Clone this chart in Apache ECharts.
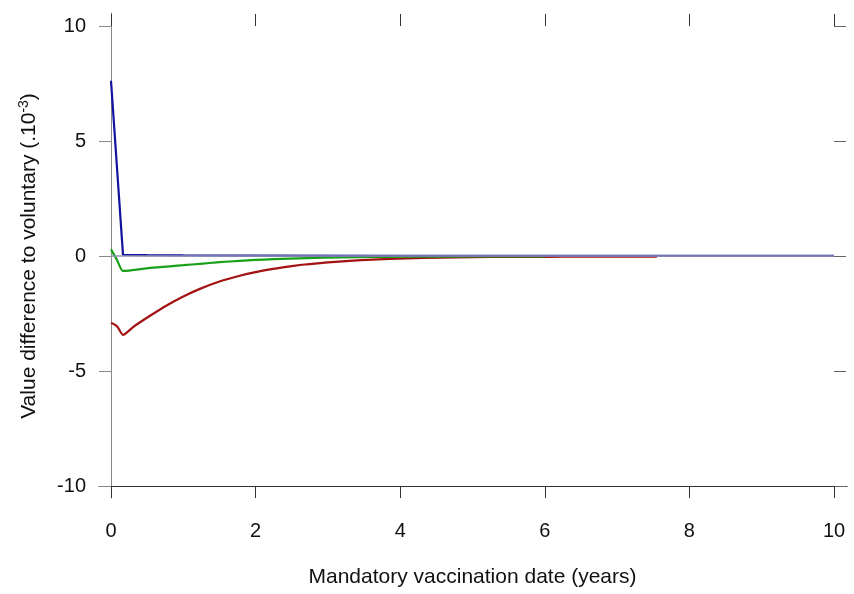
<!DOCTYPE html>
<html><head><meta charset="utf-8">
<script src="https://cdn.jsdelivr.net/npm/echarts@6/dist/echarts.min.js"></script>
<style>html,body{margin:0;padding:0;background:#fff}#c{width:854px;height:594px}</style>
</head><body><div id="c"></div>
<script>
const xTicks = [0, 2, 4, 6, 8, 10];
const yTicks = [-10, -5, 0, 5, 10];
const blueX = [0, 0.166, 0.5, 1, 2, 4, 10];
const blueY = [7.62, 0.05, 0.04, 0.03, 0.02, 0.01, 0.01];
const greenX = [0, 0.083, 0.166, 0.54, 1.0, 1.23, 1.5, 1.78, 2.0, 2.24, 2.71, 3.17, 3.62, 4.09, 5, 6];
const greenY = [0.29, -0.17, -0.65, -0.52, -0.40, -0.34, -0.27, -0.21, -0.17, -0.14, -0.09, -0.06, -0.04, -0.03, -0.02, -0.02];
const redX = [0, 0.083, 0.166, 0.31, 0.54, 0.77, 1.0, 1.23, 1.5, 1.78, 2.0, 2.24, 2.5, 2.71, 3.0, 3.3, 3.62, 4.09, 4.55, 5.0, 5.5, 6.0, 6.5, 7.0, 7.55];
const redY = [-2.9, -3.05, -3.43, -3.08, -2.6, -2.15, -1.76, -1.43, -1.11, -0.86, -0.70, -0.56, -0.44, -0.36, -0.28, -0.21, -0.155, -0.10, -0.07, -0.05, -0.04, -0.035, -0.03, -0.03, -0.03];

const zip = (xs, ys) => xs.map((x, i) => [x, ys[i]]);
const FONT = 'Liberation Sans';
const chart = echarts.init(document.getElementById('c'), null, {renderer: 'canvas'});
const tickStyle = c => ({show: true, inside: false, length: 12, lineStyle: {color: c, width: 1}});
const noLine = {show: false, onZero: false};
chart.setOption({
  backgroundColor: '#fff',
  animation: false,
  grid: [
    {left: 111, right: 20, top: 26, bottom: 108},
    {left: 99, right: 7, top: 26, bottom: 108},
    {left: 111, right: 20, top: 13, bottom: 96}
  ],
  xAxis: [
    {gridIndex: 0, type: 'value', position: 'bottom', min: xTicks[0], max: xTicks[xTicks.length - 1], interval: 2,
     axisLine: noLine, splitLine: {show: false}, axisTick: tickStyle('#333'),
     axisLabel: {fontFamily: FONT, fontSize: 20, color: '#111', margin: 35},
     name: 'Mandatory vaccination date (years)', nameLocation: 'middle', nameGap: 81,
     nameTextStyle: {fontFamily: FONT, fontSize: 21, color: '#111'}},
    {gridIndex: 0, type: 'value', position: 'top', min: 0, max: 10, interval: 2,
     axisLine: noLine, splitLine: {show: false}, axisTick: tickStyle('#333'), axisLabel: {show: false}},
    {gridIndex: 1, type: 'value', min: 0, max: 1, axisLine: {show: true, onZero: false, lineStyle: {color: '#333', width: 1}},
     axisTick: {show: false}, axisLabel: {show: false}, splitLine: {show: false}},
    {gridIndex: 2, type: 'value', show: false, min: 0, max: 1}
  ],
  yAxis: [
    {gridIndex: 0, type: 'value', position: 'left', min: yTicks[0], max: yTicks[yTicks.length - 1], interval: 5,
     axisLine: noLine, splitLine: {show: false}, axisTick: tickStyle('#888'),
     axisLabel: {fontFamily: FONT, fontSize: 20, color: '#111', margin: 25},
     name: '{a|Value difference to voluntary (.10}{s|-3}{a|)}', nameLocation: 'middle', nameGap: 70, nameRotate: 90,
     nameTextStyle: {fontFamily: FONT, fontSize: 21, color: '#111',
       rich: {a: {fontFamily: FONT, fontSize: 21, color: '#111'}, s: {fontFamily: FONT, fontSize: 14, color: '#111', padding: [0, 0, 10, 0]}}}},
    {gridIndex: 0, type: 'value', position: 'right', min: -10, max: 10, interval: 5,
     axisLine: noLine, splitLine: {show: false}, axisTick: tickStyle('#666'), axisLabel: {show: false}},
    {gridIndex: 1, type: 'value', show: false, min: 0, max: 1},
    {gridIndex: 2, type: 'value', min: 0, max: 1, axisLine: {show: true, onZero: false, lineStyle: {color: '#888', width: 1}},
     axisTick: {show: false}, axisLabel: {show: false}, splitLine: {show: false}}
  ],
  series: [
    {type: 'line', xAxisIndex: 0, yAxisIndex: 0, data: zip(redX, redY), showSymbol: false, smooth: 0.2,
     lineStyle: {color: '#a31212', width: 2.2}, z: 2},
    {type: 'line', xAxisIndex: 0, yAxisIndex: 0, data: zip(greenX, greenY), showSymbol: false, smooth: 0.2,
     lineStyle: {color: '#18a018', width: 2.2}, z: 3},
    {type: 'line', xAxisIndex: 0, yAxisIndex: 0, data: zip(blueX, blueY), showSymbol: false,
     lineStyle: {color: '#12129c', width: 2.2}, z: 4,
     markLine: {silent: true, symbol: 'none', label: {show: false}, animation: false,
       lineStyle: {color: 'rgba(150,150,180,0.75)', width: 2, type: 'solid'},
       data: [{yAxis: 0}]}}
  ]
});
</script></body></html>
